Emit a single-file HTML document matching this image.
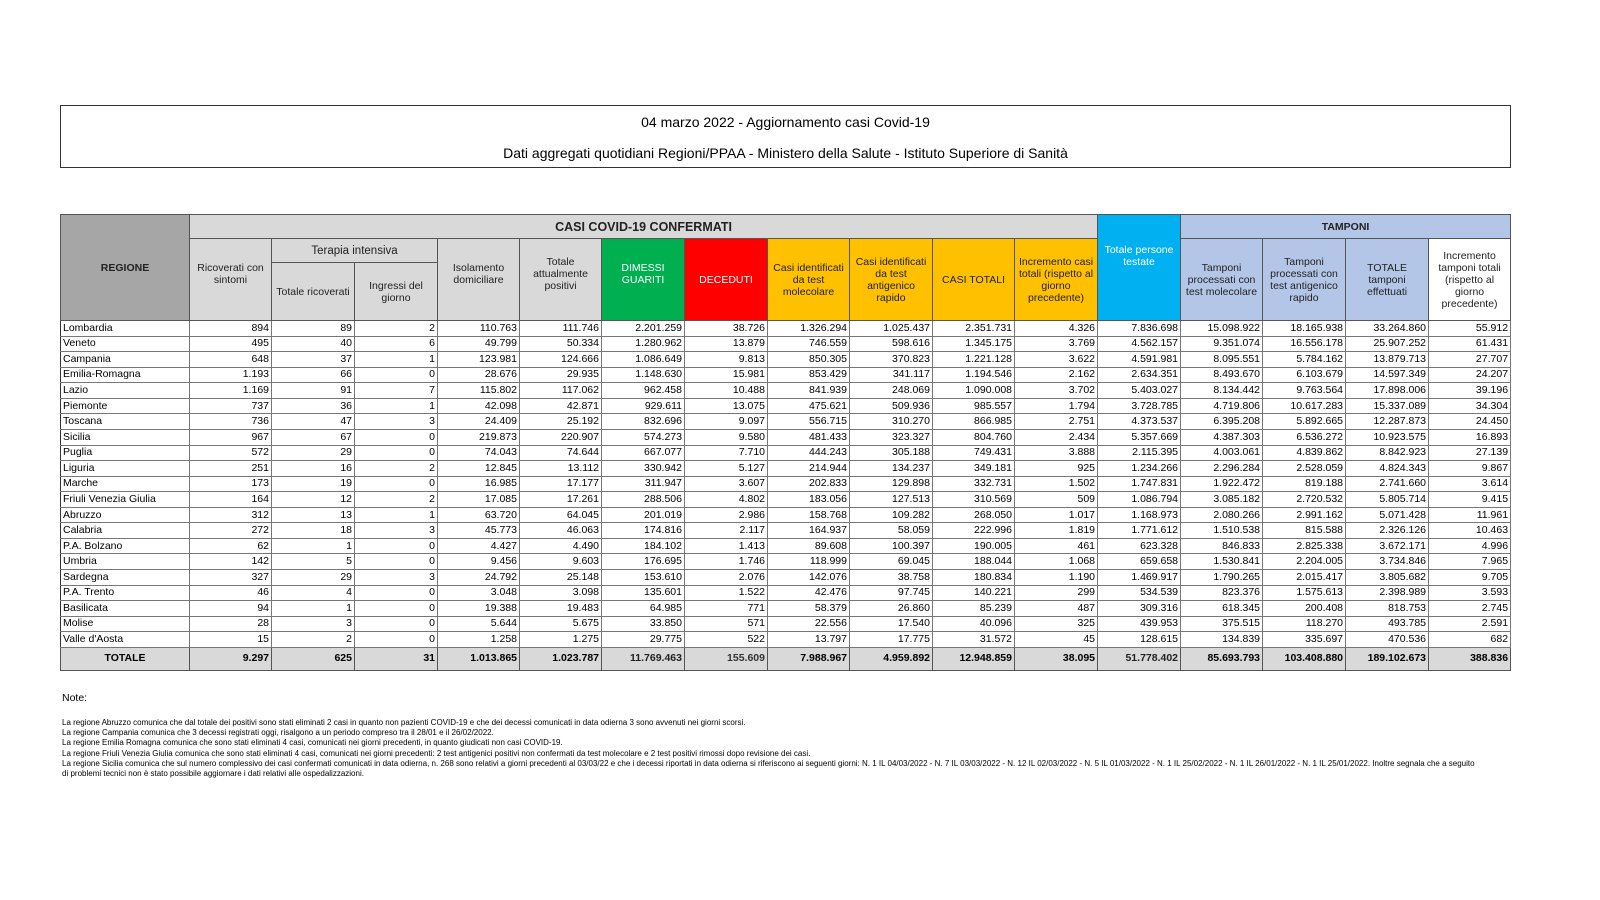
<!DOCTYPE html>
<html><head><meta charset="utf-8"><style>
body{margin:0;width:1600px;height:900px;background:#fff;font-family:"Liberation Sans",sans-serif;position:relative;overflow:hidden;color:#000}
.tbox{position:absolute;left:60px;top:105px;width:1449px;height:61px;border:1px solid #333;text-align:center;font-size:14px}
.tbox div{position:absolute;left:0;right:0}
table{position:absolute;left:60px;top:214px;border-collapse:collapse;table-layout:fixed;width:1451px}
td{border:1px solid #555;padding:0 2px;font-size:10.5px;line-height:11px;overflow:hidden;white-space:nowrap}
tr.d td{height:14.57px;text-align:right;border-color:#777}
tr.d td:first-child{text-align:left;border-left:1px solid #333}
th,.h{background:#d9d9d9;text-align:center;white-space:normal;font-size:10.5px;line-height:12px;color:#222}
.g{background:#00b050;color:#fff}.r{background:#ff0000;color:#fff}.y{background:#ffc000}.b{background:#00b0f0;color:#fff}.t{background:#b4c6e7}.gr{background:#a6a6a6}
tr.tot td{height:22px;text-align:right;font-weight:bold;background:#d9d9d9}
.notes{position:absolute;left:62px;font-size:8px;line-height:10.2px;top:718px;width:1440px}
</style></head><body>
<div class="tbox"><div style="top:8px">04 marzo 2022 - Aggiornamento casi Covid-19</div><div style="top:39px">Dati aggregati quotidiani Regioni/PPAA - Ministero della Salute - Istituto Superiore di Sanità</div></div>
<table>
<colgroup><col style="width:129px"><col style="width:82px"><col style="width:83px"><col style="width:83px"><col style="width:82px"><col style="width:82px"><col style="width:83px"><col style="width:83px"><col style="width:82px"><col style="width:83px"><col style="width:82px"><col style="width:83px"><col style="width:83px"><col style="width:82px"><col style="width:83px"><col style="width:83px"><col style="width:82px"></colgroup>
<tr style="height:24px"><td rowspan="3" class="h gr" style="font-weight:bold">REGIONE</td><td colspan="11" class="h" style="font-weight:bold;font-size:12.5px">CASI COVID-19 CONFERMATI</td><td rowspan="3" class="h b">Totale persone testate<br><br><br></td><td colspan="4" class="h t" style="font-weight:bold">TAMPONI</td></tr>
<tr style="height:24px"><td rowspan="2" class="h">Ricoverati con sintomi<br><br></td><td colspan="2" class="h" style="font-size:11.5px">Terapia intensiva</td><td rowspan="2" class="h">Isolamento domiciliare<br><br></td><td rowspan="2" class="h">Totale attualmente positivi<br><br></td><td rowspan="2" class="h g">DIMESSI GUARITI<br><br></td><td rowspan="2" class="h r">DECEDUTI</td><td rowspan="2" class="h y">Casi identificati da test molecolare</td><td rowspan="2" class="h y">Casi identificati da test antigenico rapido</td><td rowspan="2" class="h y">CASI TOTALI</td><td rowspan="2" class="h y">Incremento casi totali (rispetto al giorno precedente)</td><td rowspan="2" class="h t">Tamponi processati con test molecolare</td><td rowspan="2" class="h t">Tamponi processati con test antigenico rapido</td><td rowspan="2" class="h t">TOTALE tamponi effettuati</td><td rowspan="2" class="h" style="background:#fff">Incremento tamponi totali (rispetto al giorno precedente)</td></tr>
<tr style="height:58px"><td class="h">Totale ricoverati</td><td class="h">Ingressi del giorno</td></tr>
<tr class="d"><td>Lombardia</td><td>894</td><td>89</td><td>2</td><td>110.763</td><td>111.746</td><td>2.201.259</td><td>38.726</td><td>1.326.294</td><td>1.025.437</td><td>2.351.731</td><td>4.326</td><td>7.836.698</td><td>15.098.922</td><td>18.165.938</td><td>33.264.860</td><td>55.912</td></tr>
<tr class="d"><td>Veneto</td><td>495</td><td>40</td><td>6</td><td>49.799</td><td>50.334</td><td>1.280.962</td><td>13.879</td><td>746.559</td><td>598.616</td><td>1.345.175</td><td>3.769</td><td>4.562.157</td><td>9.351.074</td><td>16.556.178</td><td>25.907.252</td><td>61.431</td></tr>
<tr class="d"><td>Campania</td><td>648</td><td>37</td><td>1</td><td>123.981</td><td>124.666</td><td>1.086.649</td><td>9.813</td><td>850.305</td><td>370.823</td><td>1.221.128</td><td>3.622</td><td>4.591.981</td><td>8.095.551</td><td>5.784.162</td><td>13.879.713</td><td>27.707</td></tr>
<tr class="d"><td>Emilia-Romagna</td><td>1.193</td><td>66</td><td>0</td><td>28.676</td><td>29.935</td><td>1.148.630</td><td>15.981</td><td>853.429</td><td>341.117</td><td>1.194.546</td><td>2.162</td><td>2.634.351</td><td>8.493.670</td><td>6.103.679</td><td>14.597.349</td><td>24.207</td></tr>
<tr class="d"><td>Lazio</td><td>1.169</td><td>91</td><td>7</td><td>115.802</td><td>117.062</td><td>962.458</td><td>10.488</td><td>841.939</td><td>248.069</td><td>1.090.008</td><td>3.702</td><td>5.403.027</td><td>8.134.442</td><td>9.763.564</td><td>17.898.006</td><td>39.196</td></tr>
<tr class="d"><td>Piemonte</td><td>737</td><td>36</td><td>1</td><td>42.098</td><td>42.871</td><td>929.611</td><td>13.075</td><td>475.621</td><td>509.936</td><td>985.557</td><td>1.794</td><td>3.728.785</td><td>4.719.806</td><td>10.617.283</td><td>15.337.089</td><td>34.304</td></tr>
<tr class="d"><td>Toscana</td><td>736</td><td>47</td><td>3</td><td>24.409</td><td>25.192</td><td>832.696</td><td>9.097</td><td>556.715</td><td>310.270</td><td>866.985</td><td>2.751</td><td>4.373.537</td><td>6.395.208</td><td>5.892.665</td><td>12.287.873</td><td>24.450</td></tr>
<tr class="d"><td>Sicilia</td><td>967</td><td>67</td><td>0</td><td>219.873</td><td>220.907</td><td>574.273</td><td>9.580</td><td>481.433</td><td>323.327</td><td>804.760</td><td>2.434</td><td>5.357.669</td><td>4.387.303</td><td>6.536.272</td><td>10.923.575</td><td>16.893</td></tr>
<tr class="d"><td>Puglia</td><td>572</td><td>29</td><td>0</td><td>74.043</td><td>74.644</td><td>667.077</td><td>7.710</td><td>444.243</td><td>305.188</td><td>749.431</td><td>3.888</td><td>2.115.395</td><td>4.003.061</td><td>4.839.862</td><td>8.842.923</td><td>27.139</td></tr>
<tr class="d"><td>Liguria</td><td>251</td><td>16</td><td>2</td><td>12.845</td><td>13.112</td><td>330.942</td><td>5.127</td><td>214.944</td><td>134.237</td><td>349.181</td><td>925</td><td>1.234.266</td><td>2.296.284</td><td>2.528.059</td><td>4.824.343</td><td>9.867</td></tr>
<tr class="d"><td>Marche</td><td>173</td><td>19</td><td>0</td><td>16.985</td><td>17.177</td><td>311.947</td><td>3.607</td><td>202.833</td><td>129.898</td><td>332.731</td><td>1.502</td><td>1.747.831</td><td>1.922.472</td><td>819.188</td><td>2.741.660</td><td>3.614</td></tr>
<tr class="d"><td>Friuli Venezia Giulia</td><td>164</td><td>12</td><td>2</td><td>17.085</td><td>17.261</td><td>288.506</td><td>4.802</td><td>183.056</td><td>127.513</td><td>310.569</td><td>509</td><td>1.086.794</td><td>3.085.182</td><td>2.720.532</td><td>5.805.714</td><td>9.415</td></tr>
<tr class="d"><td>Abruzzo</td><td>312</td><td>13</td><td>1</td><td>63.720</td><td>64.045</td><td>201.019</td><td>2.986</td><td>158.768</td><td>109.282</td><td>268.050</td><td>1.017</td><td>1.168.973</td><td>2.080.266</td><td>2.991.162</td><td>5.071.428</td><td>11.961</td></tr>
<tr class="d"><td>Calabria</td><td>272</td><td>18</td><td>3</td><td>45.773</td><td>46.063</td><td>174.816</td><td>2.117</td><td>164.937</td><td>58.059</td><td>222.996</td><td>1.819</td><td>1.771.612</td><td>1.510.538</td><td>815.588</td><td>2.326.126</td><td>10.463</td></tr>
<tr class="d"><td>P.A. Bolzano</td><td>62</td><td>1</td><td>0</td><td>4.427</td><td>4.490</td><td>184.102</td><td>1.413</td><td>89.608</td><td>100.397</td><td>190.005</td><td>461</td><td>623.328</td><td>846.833</td><td>2.825.338</td><td>3.672.171</td><td>4.996</td></tr>
<tr class="d"><td>Umbria</td><td>142</td><td>5</td><td>0</td><td>9.456</td><td>9.603</td><td>176.695</td><td>1.746</td><td>118.999</td><td>69.045</td><td>188.044</td><td>1.068</td><td>659.658</td><td>1.530.841</td><td>2.204.005</td><td>3.734.846</td><td>7.965</td></tr>
<tr class="d"><td>Sardegna</td><td>327</td><td>29</td><td>3</td><td>24.792</td><td>25.148</td><td>153.610</td><td>2.076</td><td>142.076</td><td>38.758</td><td>180.834</td><td>1.190</td><td>1.469.917</td><td>1.790.265</td><td>2.015.417</td><td>3.805.682</td><td>9.705</td></tr>
<tr class="d"><td>P.A. Trento</td><td>46</td><td>4</td><td>0</td><td>3.048</td><td>3.098</td><td>135.601</td><td>1.522</td><td>42.476</td><td>97.745</td><td>140.221</td><td>299</td><td>534.539</td><td>823.376</td><td>1.575.613</td><td>2.398.989</td><td>3.593</td></tr>
<tr class="d"><td>Basilicata</td><td>94</td><td>1</td><td>0</td><td>19.388</td><td>19.483</td><td>64.985</td><td>771</td><td>58.379</td><td>26.860</td><td>85.239</td><td>487</td><td>309.316</td><td>618.345</td><td>200.408</td><td>818.753</td><td>2.745</td></tr>
<tr class="d"><td>Molise</td><td>28</td><td>3</td><td>0</td><td>5.644</td><td>5.675</td><td>33.850</td><td>571</td><td>22.556</td><td>17.540</td><td>40.096</td><td>325</td><td>439.953</td><td>375.515</td><td>118.270</td><td>493.785</td><td>2.591</td></tr>
<tr class="d"><td>Valle d'Aosta</td><td>15</td><td>2</td><td>0</td><td>1.258</td><td>1.275</td><td>29.775</td><td>522</td><td>13.797</td><td>17.775</td><td>31.572</td><td>45</td><td>128.615</td><td>134.839</td><td>335.697</td><td>470.536</td><td>682</td></tr>
<tr class="tot"><td class="gr" style="text-align:center">TOTALE</td><td>9.297</td><td>625</td><td>31</td><td>1.013.865</td><td>1.023.787</td><td class="g" style="color:#222">11.769.463</td><td class="r" style="color:#333">155.609</td><td class="y">7.988.967</td><td class="y">4.959.892</td><td class="y">12.948.859</td><td class="y">38.095</td><td class="b" style="color:#222">51.778.402</td><td class="t">85.693.793</td><td class="t">103.408.880</td><td class="t">189.102.673</td><td class="gr">388.836</td></tr>
</table>
<div style="position:absolute;left:62px;top:692px;font-size:10.5px">Note:</div>
<div class="notes">La regione Abruzzo comunica che dal totale dei positivi sono stati eliminati 2 casi in quanto non pazienti COVID-19 e che dei decessi comunicati in data odierna 3 sono avvenuti nei giorni scorsi.<br>La regione Campania comunica che 3 decessi registrati oggi, risalgono a un periodo compreso tra il 28/01 e il 26/02/2022.<br>La regione Emilia Romagna comunica che sono stati eliminati 4 casi, comunicati nei giorni precedenti, in quanto giudicati non casi COVID-19.<br>La regione Friuli Venezia Giulia comunica che sono stati eliminati 4 casi, comunicati nei giorni precedenti: 2 test antigenici positivi non confermati da test molecolare e 2 test positivi rimossi dopo revisione dei casi.<br>La regione Sicilia comunica che sul numero complessivo dei casi confermati comunicati in data odierna, n. 268 sono relativi a giorni precedenti al 03/03/22 e che i decessi riportati in data odierna si riferiscono ai seguenti giorni: N. 1 IL 04/03/2022 - N. 7 IL 03/03/2022 - N. 12 IL 02/03/2022 - N. 5 IL 01/03/2022 - N. 1 IL 25/02/2022 - N. 1 IL 26/01/2022 - N. 1 IL 25/01/2022. Inoltre segnala che a seguito<br>di problemi tecnici non è stato possibile aggiornare i dati relativi alle ospedalizzazioni.</div>
</body></html>
